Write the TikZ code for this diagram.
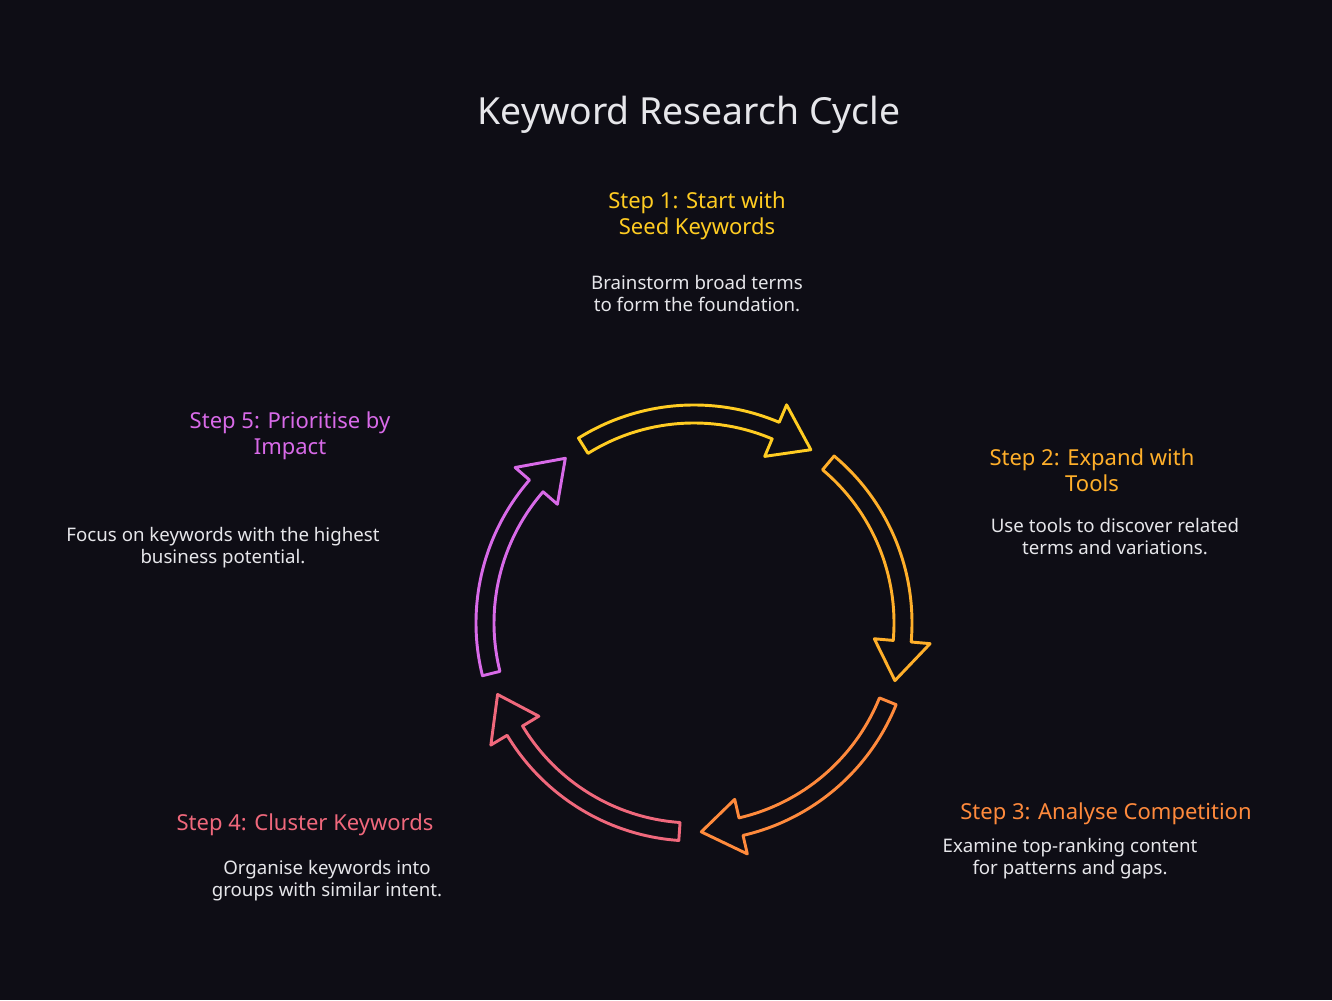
\documentclass[tikz,border=0pt]{standalone}
\usepackage{fontspec}
\setmainfont{Noto Sans}
\usetikzlibrary{calc}
\definecolor{bg}{HTML}{0E0D15}
\definecolor{cA}{HTML}{FFCC22}
\definecolor{cB}{HTML}{FFAF2A}
\definecolor{cC}{HTML}{FF8A3C}
\definecolor{cD}{HTML}{F0687C}
\definecolor{cE}{HTML}{D86AE8}
\definecolor{txt}{HTML}{E6E6EA}
\newcommand\cycarrow[3]{%
  \pgfmathsetmacro\hb{#3+11}%
  \draw[#1, line width=2.2pt, line join=round] ($(C)+(#2:218)$) arc[start angle=#2, end angle=\hb, radius=218]
    -- ($(C)+(\hb:237)$) -- ($(C)+(#3:209)$) -- ($(C)+(\hb:181)$) -- ($(C)+(\hb:200)$)
    arc[start angle=\hb, end angle=#2, radius=200] -- cycle;}
\begin{document}
\begin{tikzpicture}[x=0.75pt,y=0.75pt,
  head/.style={font=\fontsize{16.5}{19.5}\selectfont\bfseries, align=center, inner sep=0pt},
  body/.style={font=\fontsize{14}{16.5}\selectfont, text=txt, align=center, inner sep=0pt}]
\fill[bg] (0,0) rectangle (1332,1000);
\useasboundingbox (0,0) rectangle (1332,1000);
\coordinate (C) at (694,377);
\node[text=txt, font=\fontsize{28}{32}\selectfont, inner sep=0pt] (title) at (689,885) {Keyword Research Cycle};
\cycarrow{cA}{122}{56}
\cycarrow{cB}{50}{-16}
\cycarrow{cC}{-22}{-88}
\cycarrow{cD}{-94}{-160}
\cycarrow{cE}{-166}{-232}
\node[head, text=cA] (h1) at (697,784.5) {Step 1: Start with\\Seed Keywords};
\node[body] (b1) at (697,706) {Brainstorm broad terms\\to form the foundation.};
\node[head, text=cB] (h2) at (1092,530) {Step 2: Expand with\\Tools};
\node[body] (b2) at (1115,463) {Use tools to discover related\\terms and variations.};
\node[head, text=cC] (h3) at (1106,186) {Step 3: Analyse Competition};
\node[body] (b3) at (1070,141) {Examine top-ranking content\\for patterns and gaps.};
\node[head, text=cD] (h4) at (305,175) {Step 4: Cluster Keywords};
\node[body] (b4) at (327,119) {Organise keywords into\\groups with similar intent.};
\node[head, text=cE] (h5) at (290,564) {Step 5: Prioritise by\\Impact};
\node[body] (b5) at (223,452) {Focus on keywords with the highest\\business potential.};
\end{tikzpicture}
\end{document}
